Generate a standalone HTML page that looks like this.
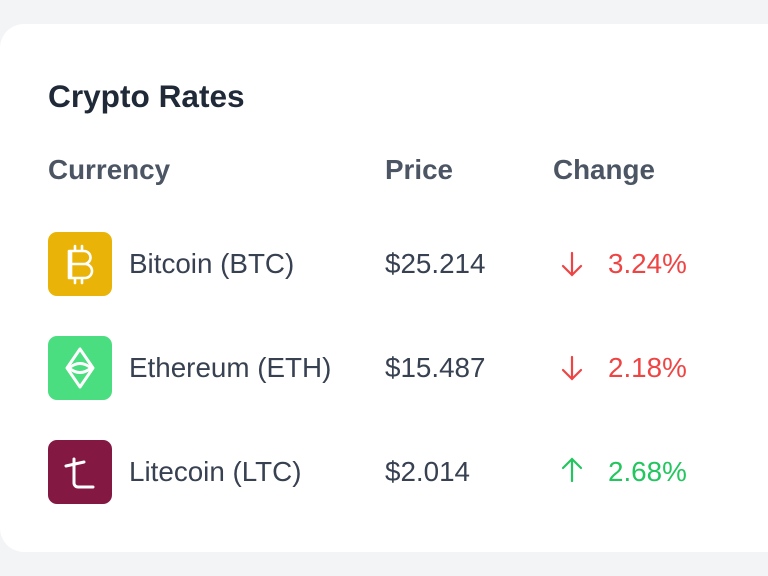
<!DOCTYPE html>
<html><head><style>
body{margin:0;width:768px;height:576px;background:#f3f4f6;font-family:"Liberation Sans",Arial,sans-serif;position:relative;overflow:hidden}
.card{position:absolute;left:0;top:24px;width:792px;height:528px;background:#fff;border-radius:24px}
.t{position:absolute;white-space:nowrap;line-height:1}
.title{left:48px;top:81px;font-size:31.6px;font-weight:bold;color:#1f2937}
.h{top:156px;font-size:27.8px;font-weight:bold;color:#4b5563}
.c{font-size:27.8px;color:#374151}
.ic{position:absolute;left:48px;width:64px;height:64px;border-radius:9px}
.ic svg{width:64px;height:64px;display:block}
.red{color:#ef4444}.green{color:#22c55e}
</style></head><body>
<div class="card"></div>
<div class="t title">Crypto Rates</div>
<div class="t h" style="left:48px">Currency</div>
<div class="t h" style="left:385px">Price</div>
<div class="t h" style="left:553px">Change</div>

<div class="ic" style="top:232px;background:#eab308"><svg viewBox="0 0 64 64" fill="none" stroke="#fff" stroke-width="2.6" stroke-linecap="round" stroke-linejoin="round"><path d="M21 19h15a6.5 6.5 0 0 1 0 13H21zM21 32h16a7 7 0 0 1 0 14H21zM23 19v27M27 14v5M34 14v5M27 46v5M34 46v5"/></svg></div>
<div class="t c" style="left:129px;top:250px">Bitcoin (BTC)</div>
<div class="t c" style="left:385px;top:250px">$25.214</div>
<div class="t" style="left:560px;top:250px"><svg width="24" height="28" viewBox="0 0 24 28" fill="none" stroke="#ef4444" stroke-width="2.2" stroke-linecap="round"><path d="M12 3v22M3 16l9 9 9-9"/></svg></div>
<div class="t c red" style="left:608px;top:250px">3.24%</div>

<div class="ic" style="top:336px;background:#4ade80"><svg viewBox="0 0 64 64" fill="none" stroke="#fff" stroke-width="3" stroke-linejoin="round"><path d="M32 13L19 32l13 19 13-19z"/><path d="M21 32q11-9 22 0q-11 9-22 0z"/></svg></div>
<div class="t c" style="left:129px;top:354px">Ethereum (ETH)</div>
<div class="t c" style="left:385px;top:354px">$15.487</div>
<div class="t" style="left:560px;top:354px"><svg width="24" height="28" viewBox="0 0 24 28" fill="none" stroke="#ef4444" stroke-width="2.2" stroke-linecap="round"><path d="M12 3v22M3 16l9 9 9-9"/></svg></div>
<div class="t c red" style="left:608px;top:354px">2.18%</div>

<div class="ic" style="top:440px;background:#831843"><svg viewBox="0 0 64 64" fill="none" stroke="#fff" stroke-width="3" stroke-linecap="round" stroke-linejoin="round"><path d="M26 19v24a4 4 0 0 0 4 4h15M18 26l18-4"/></svg></div>
<div class="t c" style="left:129px;top:458px">Litecoin (LTC)</div>
<div class="t c" style="left:385px;top:458px">$2.014</div>
<div class="t" style="left:560px;top:456px"><svg width="24" height="28" viewBox="0 0 24 28" fill="none" stroke="#22c55e" stroke-width="2.2" stroke-linecap="round"><path d="M12 25V3M3 12l9-9 9 9"/></svg></div>
<div class="t c green" style="left:608px;top:458px">2.68%</div>
</body></html>
